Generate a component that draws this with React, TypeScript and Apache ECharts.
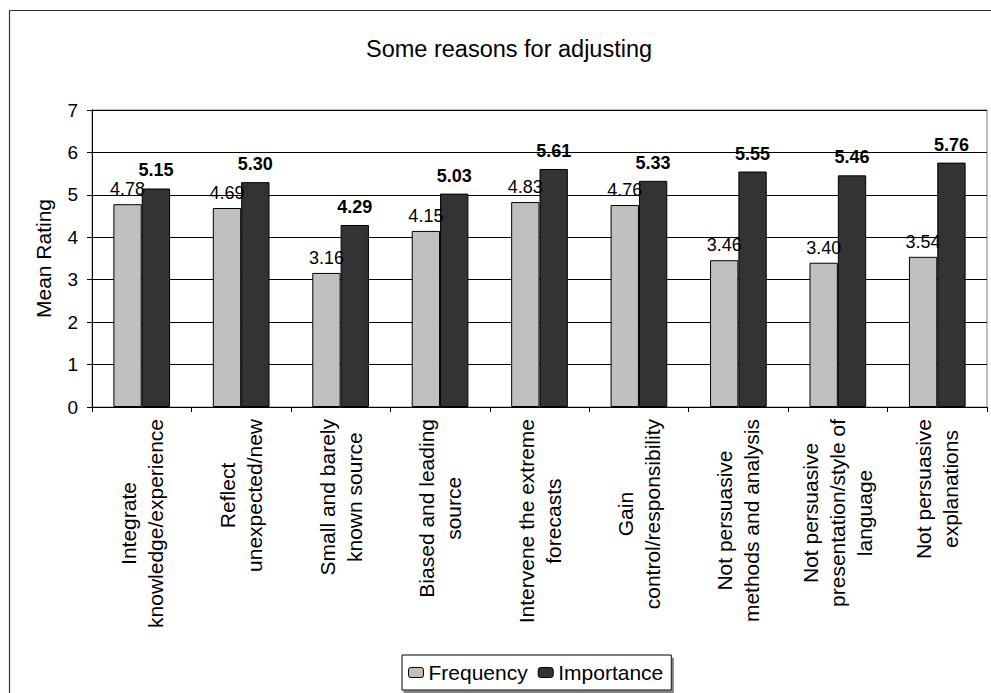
import React, { useEffect, useRef } from "react";
import * as echarts from "echarts";

const categories = [
  "Integrate\nknowledge/experience",
  "Reflect\nunexpected/new",
  "Small and barely\nknown source",
  "Biased and leading\nsource",
  "Intervene the extreme\nforecasts",
  "Gain\ncontrol/responsibility",
  "Not persuasive\nmethods and analysis",
  "Not persuasive\npresentation/style of\nlanguage",
  "Not persuasive\nexplanations",
];
const frequency = [4.78, 4.69, 3.16, 4.15, 4.83, 4.76, 3.46, 3.4, 3.54];
const importance = [5.15, 5.3, 4.29, 5.03, 5.61, 5.33, 5.55, 5.46, 5.76];
const seriesNames = ["Frequency", "Importance"];
const yMin = 0;
const yMax = 7;
const yStep = 1;

const FONT = "'Liberation Sans', Arial, sans-serif";

export default function App() {
  const ref = useRef<HTMLDivElement>(null);
  useEffect(() => {
    if (!ref.current) return;
    const chart = echarts.init(ref.current, undefined, { renderer: "svg" });
    chart.setOption({
      animation: false,
      backgroundColor: "#fff",
      textStyle: { fontFamily: FONT, color: "#000" },
      title: {
        text: "Some reasons for adjusting",
        left: 361,
        top: 32,
        textStyle: { fontFamily: FONT, fontSize: 23.5, fontWeight: "normal", color: "#000" },
      },
      graphic: [
        { type: "line", shape: { x1: 9.5, y1: 10.5, x2: 991, y2: 10.5 }, style: { stroke: "#333", lineWidth: 1.2 } },
        { type: "line", shape: { x1: 9.5, y1: 10.5, x2: 9.5, y2: 693 }, style: { stroke: "#333", lineWidth: 1.2 } },
      ],
      legend: {
        data: seriesNames,
        left: 402,
        top: 655,
        orient: "horizontal",
        itemWidth: 15,
        itemHeight: 10,
        itemGap: 10,
        padding: [7, 8, 7, 6],
        borderColor: "#000",
        borderWidth: 1,
        backgroundColor: "#fff",
        shadowColor: "#808080",
        shadowOffsetX: 2,
        shadowOffsetY: 3,
        shadowBlur: 0,
        textStyle: { fontFamily: FONT, fontSize: 21, color: "#000" },
        itemStyle: { borderColor: "#000", borderWidth: 1 },
      },
      grid: {
        left: 92,
        right: 4,
        top: 110,
        bottom: 286,
        show: true,
        borderColor: "#808080",
        borderWidth: 1,
      },
      xAxis: {
        type: "category",
        data: categories,
        axisLine: { lineStyle: { color: "#000", width: 1 } },
        axisTick: { show: true, length: 5, lineStyle: { color: "#000" } },
        axisLabel: {
          interval: 0,
          rotate: 90,
          margin: 12,
          fontSize: 21,
          lineHeight: 27,
          fontFamily: FONT,
          color: "#000",
          formatter: (v: string) => v.split("\n").map((l) => `{c|${l}}`).join("\n"),
          rich: {
            c: { align: "center", fontSize: 21, lineHeight: 27, fontFamily: FONT, color: "#000" },
          },
        },
      },
      yAxis: {
        type: "value",
        min: yMin,
        max: yMax,
        interval: yStep,
        name: "Mean Rating",
        nameLocation: "middle",
        nameGap: 38,
        nameTextStyle: { fontFamily: FONT, fontSize: 21, color: "#000" },
        axisLine: { show: true, lineStyle: { color: "#000", width: 1 } },
        axisTick: { show: true, length: 5, lineStyle: { color: "#000" } },
        axisLabel: { fontSize: 19, margin: 14, color: "#000", fontFamily: FONT },
        splitLine: { show: true, lineStyle: { color: "#000", width: 1 } },
      },
      series: [
        {
          name: seriesNames[0],
          type: "bar",
          data: frequency,
          barGap: "0%",
          barCategoryGap: "43%",
          itemStyle: { color: "#C0C0C0", borderColor: "#000", borderWidth: 1 },
          label: {
            show: true,
            position: "top",
            distance: 6,
            fontSize: 18,
            fontFamily: FONT,
            color: "#000",
            formatter: (p: any) => Number(p.value).toFixed(2),
          },
        },
        {
          name: seriesNames[1],
          type: "bar",
          data: importance,
          barGap: "0%",
          barCategoryGap: "43%",
          itemStyle: { color: "#333333", borderColor: "#000", borderWidth: 1 },
          label: {
            show: true,
            position: "top",
            distance: 9,
            fontSize: 18,
            fontWeight: "bold",
            fontFamily: FONT,
            color: "#000",
            formatter: (p: any) => Number(p.value).toFixed(2),
          },
        },
      ],
    });
    return () => chart.dispose();
  }, []);
  return (
    <div
      ref={ref}
      style={{ position: "fixed", left: 0, top: 0, width: 991, height: 693, background: "#fff" }}
    />
  );
}
